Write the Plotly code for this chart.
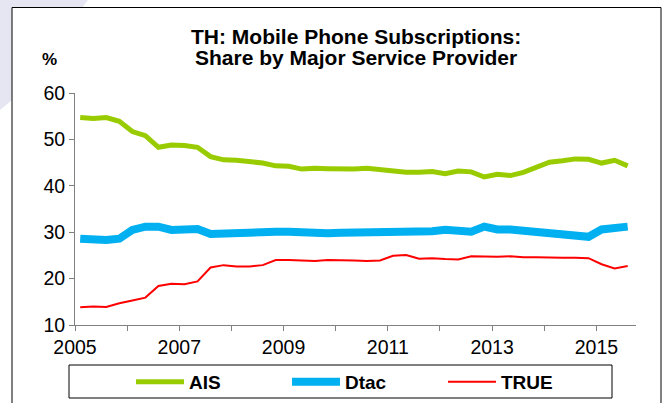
import plotly.graph_objects as go

# Quarterly observations, 2005Q1 .. 2015Q3
quarters = [f"{y}Q{q}" for y in range(2005, 2016) for q in range(1, 5)][:43]

ais = [54.7, 54.5, 54.7, 53.9, 51.7, 50.8, 48.3, 48.8, 48.7, 48.3,
       46.3, 45.6, 45.5, 45.3, 44.9, 44.3, 44.2, 43.6, 43.8, 43.7,
       43.6, 43.6, 43.8, 43.5, 43.2, 42.9, 42.9, 43.1, 42.6, 43.2,
       43.0, 41.9, 42.5, 42.2, 42.9, 44.0, 45.1, 45.4, 45.8, 45.7,
       44.9, 45.5, 44.3]
dtac = [28.6, 28.4, 28.3, 28.6, 30.5, 31.2, 31.2, 30.5, 30.8, 30.7,
        29.6, 29.7, 30.1, 30.3, 30.4, 30.1, 30.1, 29.9, 29.7, 29.8,
        29.9, 29.9, 30.1, 30.2, 30.3, 30.3, 30.2, 30.2, 30.5, 30.4,
        30.1, 31.2, 30.6, 30.6, 30.3, 30.2, 30.1, 29.7, 29.1, 29.0,
        30.6, 30.7, 31.2]
true_ = [13.8, 14.0, 13.9, 14.7, 15.3, 15.9, 18.4, 18.9, 18.8, 19.4,
         22.4, 22.9, 22.6, 22.6, 22.9, 24.0, 24.0, 23.9, 23.8, 24.0,
         24.0, 23.9, 23.8, 23.9, 24.9, 25.1, 24.3, 24.4, 24.2, 24.1,
         24.8, 24.7, 24.7, 24.8, 24.6, 24.6, 24.5, 24.5, 24.5, 24.4,
         23.1, 22.2, 22.7]

series_names = ["AIS", "Dtac", "TRUE"]
series_colors = ["#99CC00", "#00B0F0", "#FF0000"]
series_widths = [5, 8, 2]

year_ticks = list(range(2005, 2016))
year_labels = [str(y) if (y - 2005) % 2 == 0 else "" for y in year_ticks]
y_ticks = [10, 20, 30, 40, 50, 60]

x = [int(s[:4]) + (int(s[-1]) - 1) / 4 + 0.1 for s in quarters]

FONT = "Liberation Sans, Arial, sans-serif"

fig = go.Figure()
for name, vals, col, w in zip(series_names, [ais, dtac, true_], series_colors, series_widths):
    fig.add_trace(go.Scatter(x=x, y=vals, name=name, mode="lines",
                             line=dict(color=col, width=w)))

W, H = 667, 403
L, R, T, B = 75, 31, 93, 78
pw, ph = W - L - R, H - T - B


def px(xp):
    return (xp - L) / pw


def py(yp):
    return (H - B - yp) / ph


fig.update_layout(
    width=W, height=H,
    margin=dict(l=L, r=R, t=T, b=B, autoexpand=False),
    paper_bgcolor="white", plot_bgcolor="white",
    font=dict(family=FONT, size=20, color="#000000"),
    showlegend=True,
    legend=dict(orientation="h", x=px(131), xanchor="left", y=py(382), yanchor="middle",
                font=dict(family=FONT, size=19, color="#000000", weight="bold"),
                entrywidthmode="pixels", entrywidth=93, itemwidth=48,
                bgcolor="rgba(0,0,0,0)", borderwidth=0),
    xaxis=dict(range=[2005, 2015.76], tickmode="array", tickvals=year_ticks, ticktext=year_labels,
               showgrid=False, zeroline=False, showline=True, linecolor="#808080", linewidth=1,
               ticks="outside", ticklen=5, tickcolor="#808080",
               tickfont=dict(family=FONT, size=19.5, color="#000000")),
    yaxis=dict(range=[10, 60], tickmode="array", tickvals=y_ticks,
               showgrid=False, zeroline=False, showline=True, linecolor="#808080", linewidth=1,
               ticks="outside", ticklen=5, tickcolor="#808080",
               tickfont=dict(family=FONT, size=19.5, color="#000000")),
)

# watermark fragment top-left (only visible outside the frame)
fig.add_shape(type="path", xref="paper", yref="paper", layer="below",
              path=f"M {px(0)},{py(0)} L {px(88)},{py(0)} L {px(12)},{py(100)} L {px(0)},{py(110)} Z",
              fillcolor="#E6E6F3", line=dict(width=0))
fig.add_shape(type="rect", xref="paper", yref="paper", layer="below",
              x0=px(12), x1=px(661), y0=py(440), y1=py(7.5),
              line=dict(width=0), fillcolor="white")
# outer frame
fig.add_shape(type="rect", xref="paper", yref="paper",
              x0=px(12), x1=px(661), y0=py(440), y1=py(7.5),
              line=dict(color="#000000", width=1), fillcolor="rgba(0,0,0,0)")
# legend box
fig.add_shape(type="rect", xref="paper", yref="paper",
              x0=px(69), x1=px(612), y0=py(398), y1=py(365),
              line=dict(color="#000000", width=1), fillcolor="rgba(0,0,0,0)")

fig.add_annotation(text="<b>TH: Mobile Phone Subscriptions:</b>", xref="paper", yref="paper",
                   x=px(356), y=py(36), xanchor="center", yanchor="middle", showarrow=False,
                   font=dict(family=FONT, size=21, color="#000000"))
fig.add_annotation(text="<b>Share by Major Service Provider</b>", xref="paper", yref="paper",
                   x=px(356), y=py(57), xanchor="center", yanchor="middle", showarrow=False,
                   font=dict(family=FONT, size=21, color="#000000"))
fig.add_annotation(text="<b>%</b>", xref="paper", yref="paper",
                   x=px(49), y=py(59), xanchor="center", yanchor="middle", showarrow=False,
                   font=dict(family=FONT, size=17, color="#000000"))

fig.write_html("out.html",
               config={"displayModeBar": False},
               post_script="document.body.style.margin='0';document.body.style.padding='0';"
                           "document.body.style.overflow='hidden';")
